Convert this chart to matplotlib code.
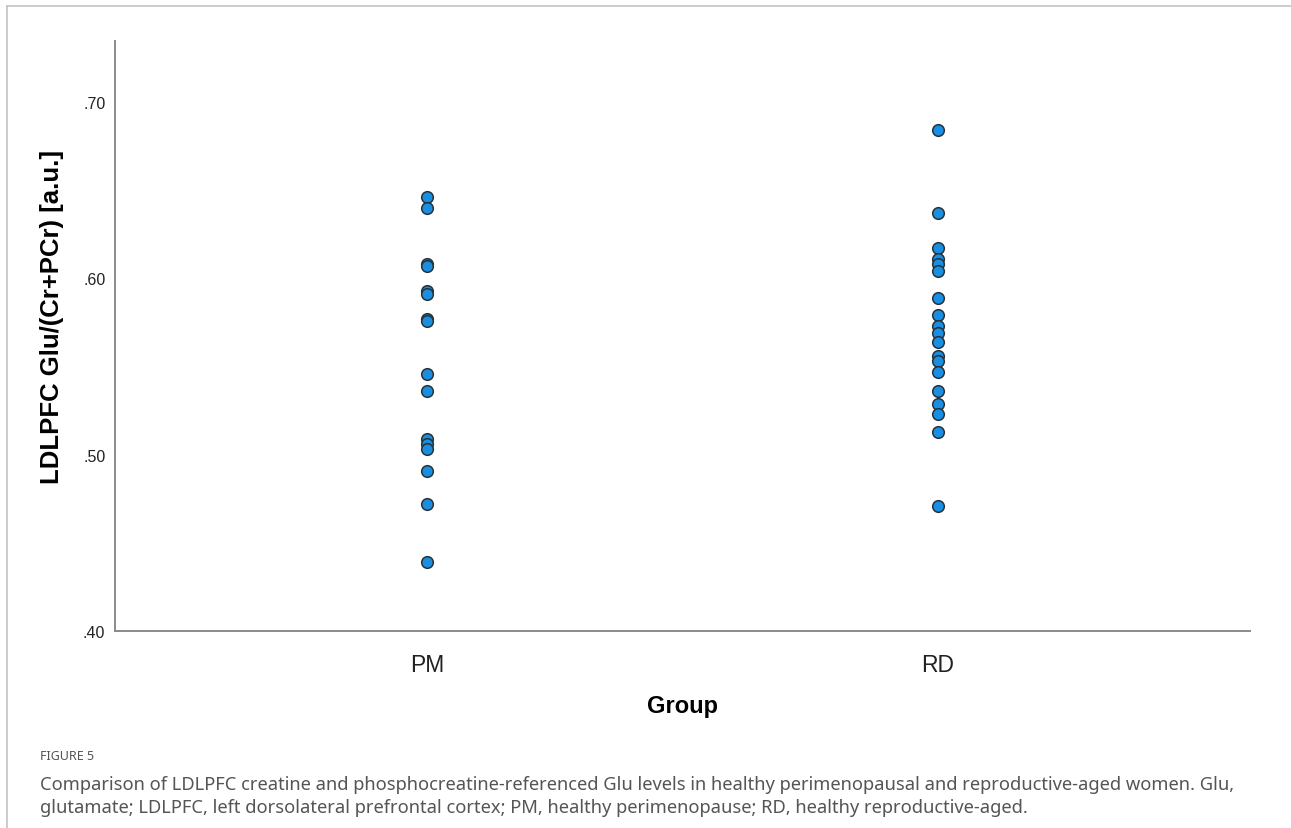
"""
Glu/(Cr+PCr) scatter by group, SPSS-style figure with caption
"""

import matplotlib.pyplot as plt
from matplotlib.lines import Line2D

# Data
groups = ['PM', 'RD']
pm_values = [0.646, 0.640, 0.608, 0.607, 0.593, 0.591, 0.577, 0.576,
             0.546, 0.536, 0.509, 0.506, 0.503, 0.491, 0.472, 0.439]
rd_values = [0.684, 0.637, 0.617, 0.611, 0.608, 0.604, 0.589, 0.579,
             0.573, 0.569, 0.564, 0.556, 0.553, 0.547, 0.536, 0.529,
             0.523, 0.513, 0.471]
y_ticks = [0.40, 0.50, 0.60, 0.70]
y_tick_labels = ['.40', '.50', '.60', '.70']

caption_title = 'FIGURE 5'
caption_lines = [
    'Comparison of LDLPFC creatine and phosphocreatine-referenced Glu levels in healthy perimenopausal and reproductive-aged women. Glu,',
    'glutamate; LDLPFC, left dorsolateral prefrontal cortex; PM, healthy perimenopause; RD, healthy reproductive-aged.',
]

plt.rcParams['font.family'] = ['Liberation Sans', 'DejaVu Sans']

fig = plt.figure(figsize=(12.91, 8.29), dpi=100)
ax = fig.add_axes([0.0891, 0.2376, 0.8791, 0.7117])

point_style = dict(s=70, color='#1a8ee0', edgecolors='#263238', linewidths=1.1, zorder=3)
for i, vals in enumerate([pm_values, rd_values]):
    ax.scatter([i] * len(vals), vals, **point_style)

ax.set_xlim(-0.611, 1.611)
ax.set_ylim(0.40, 0.7346)
ax.set_xticks(range(len(groups)))
ax.set_xticklabels(groups, fontsize=16.5, color='#222222')
ax.set_yticks(y_ticks)
ax.set_yticklabels(y_tick_labels, fontsize=11.5, color='#222222')
ax.tick_params(axis='both', length=0)
ax.tick_params(axis='x', pad=16)
ax.tick_params(axis='y', pad=7)

for side in ['top', 'right']:
    ax.spines[side].set_visible(False)
for side in ['left', 'bottom']:
    ax.spines[side].set_color('#8a8a8a')
    ax.spines[side].set_linewidth(1.4)

ax.set_xlabel('Group', fontsize=17, fontweight='bold', labelpad=13)
ax.set_ylabel('LDLPFC Glu/(Cr+PCr) [a.u.]', fontsize=18.5, fontweight='bold')
ax.yaxis.set_label_coords(-0.045, 0.534)

# light frame around the figure panel
fig.add_artist(Line2D([7 / 1291, 1], [1 - 7 / 829, 1 - 7 / 829], color='#c4c4c4', lw=1.2))
fig.add_artist(Line2D([7 / 1291, 7 / 1291], [0, 1 - 7 / 829], color='#c4c4c4', lw=1.2))

cap_font = ['Noto Sans', 'DejaVu Sans']
fig.text(40 / 1291, 1 - 757 / 829, caption_title, fontsize=9, color='#555555',
         family=cap_font, va='center')
for k, line in enumerate(caption_lines):
    fig.text(40 / 1291, 1 - (785 + 23 * k) / 829, line, fontsize=13.2, color='#555555',
             family=cap_font, va='center')

fig.savefig('out.png', dpi=100)
